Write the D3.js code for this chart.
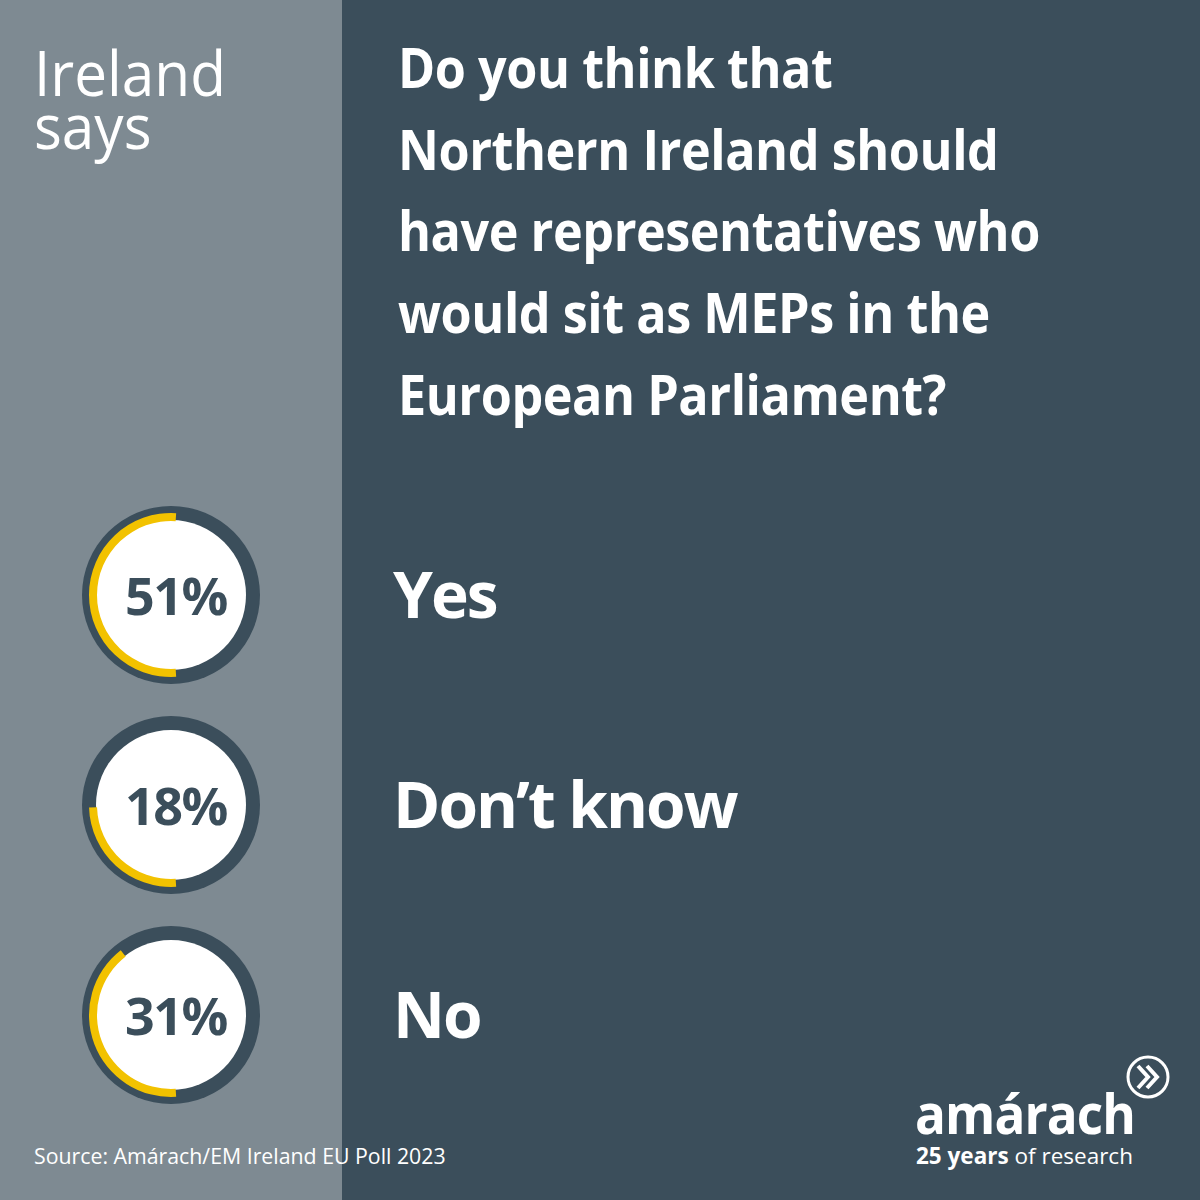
<!DOCTYPE html>
<html>
<head>
<meta charset="utf-8">
<script src="https://cdn.jsdelivr.net/npm/d3@7"></script>
<style>
  body { margin: 0; background: #3b4e5b; }
  svg { display: block; font-family: "Open Sans", "Noto Sans", sans-serif; }
</style>
</head>
<body>
<div id="chart"></div>
<script>
// answers and their shares, as printed
const answers = ["Yes", "Don\u2019t know", "No"];
const shares = [51, 18, 31];
// part of each ring drawn in yellow (percent of the ring)
const ringFill = [52, 25.5, 40.5];

const questionLines = [
  "Do you think that",
  "Northern Ireland should",
  "have representatives who",
  "would sit as MEPs in the",
  "European Parliament?"
];
const kicker = ["Ireland", "says"];
const sourceText = "Source: Am\u00e1rach/EM Ireland EU Poll 2023";

const W = 1200, H = 1200, split = 342;
const grey = "#7e8a92", slate = "#3b4e5b", yellow = "#f2c200";

const svg = d3.select("#chart").append("svg")
  .attr("width", W)
  .attr("height", H);

// two background panels
svg.append("rect").attr("width", split).attr("height", H).attr("fill", grey);
svg.append("rect").attr("x", split).attr("width", W - split).attr("height", H).attr("fill", slate);

// narrow the (wider) font horizontally by factor k, keeping the left edge
function narrow(sel, k) {
  sel.each(function() {
    let x = +d3.select(this).attr("x");
    d3.select(this).attr("transform",
      "translate(" + x + ",0) scale(" + k + ",1) translate(" + (-x) + ",0)");
  });
}

// "Ireland says"
let kick = svg.append("g").selectAll("text")
  .data(kicker)
  .enter().append("text")
  .attr("x", 34)
  .attr("y", (d, i) => 96 + i * 53)
  .attr("fill", "white")
  .style("font-size", "62px")
  .text(d => d);
narrow(kick, 192 / kick.node().getComputedTextLength());

// question
let qy = d3.scaleLinear().domain([0, 4]).range([88, 415]);
let q = svg.append("g").selectAll("text")
  .data(questionLines)
  .enter().append("text")
  .attr("x", 398)
  .attr("y", (d, i) => qy(i))
  .attr("fill", "white")
  .style("font-size", "56px")
  .style("font-weight", 700)
  .style("letter-spacing", "-0.5px")
  .text(d => d);
narrow(q, 642 / q.filter((d, i) => i == 2).node().getComputedTextLength());

// rows
let y = d3.scalePoint()
  .domain(answers)
  .range([595, 1015]);

let angle = d3.scaleLinear().domain([0, 100]).range([0, 2 * Math.PI]);
let start = Math.PI * 0.98;

let rows = svg.append("g").selectAll("g")
  .data(answers)
  .enter().append("g")
  .attr("transform", d => "translate(171," + y(d) + ")");

rows.append("circle").attr("r", 89).attr("fill", slate);
rows.append("circle").attr("r", 75).attr("fill", "white");

rows.append("path")
  .attr("fill", yellow)
  .attr("d", (d, i) => d3.arc()
    .innerRadius(74)
    .outerRadius(82)
    .startAngle(start)
    .endAngle(start + angle(ringFill[i]))());

rows.append("text")
  .attr("x", 5)
  .attr("y", 20)
  .attr("text-anchor", "middle")
  .attr("fill", slate)
  .style("font-size", "52px")
  .style("font-weight", 700)
  .style("letter-spacing", "-1.5px")
  .text((d, i) => shares[i] + "%");

// answer labels
svg.append("g").selectAll("text")
  .data(answers)
  .enter().append("text")
  .attr("x", 393)
  .attr("y", d => y(d) + 23)
  .attr("fill", "white")
  .style("font-size", "64px")
  .style("font-weight", 700)
  .style("letter-spacing", "-2px")
  .text(d => d);

// source
svg.append("text")
  .attr("x", 34)
  .attr("y", 1164)
  .attr("fill", "white")
  .style("font-size", "21.3px")
  .text(sourceText);

// logo
let logo = svg.append("g");
let word = logo.append("text")
  .attr("x", 915)
  .attr("y", 1134)
  .attr("fill", "white")
  .style("font-size", "56px")
  .style("font-weight", 700)
  .style("letter-spacing", "-1px")
  .text("am\u00e1rach");
narrow(word, 220 / word.node().getComputedTextLength());

let tag = logo.append("text")
  .attr("x", 916)
  .attr("y", 1164)
  .attr("fill", "white")
  .style("font-size", "22.5px");
tag.append("tspan").style("font-weight", 700).text("25 years");
tag.append("tspan").text(" of research");

let badge = logo.append("g").attr("transform", "translate(1148,1077)");
badge.append("circle").attr("r", 20).attr("fill", "none").attr("stroke", "white").attr("stroke-width", 3);
badge.append("path")
  .attr("d", "M-10,-11 L0,0 L-10,11 M-1,-11 L9,0 L-1,11")
  .attr("fill", "none")
  .attr("stroke", "white")
  .attr("stroke-width", 4);
</script>
</body>
</html>
